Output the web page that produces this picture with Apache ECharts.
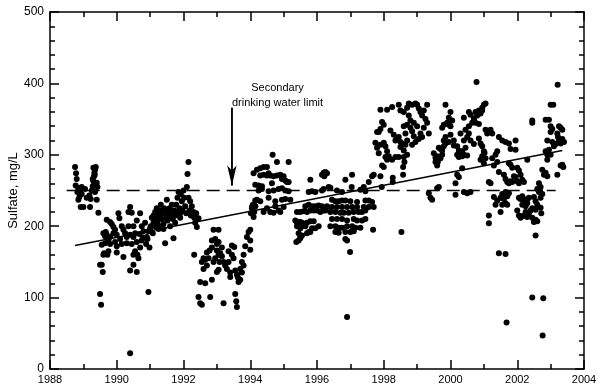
<!DOCTYPE html>
<html>
<head>
<meta charset="utf-8">
<script src="https://cdn.jsdelivr.net/npm/echarts@6/dist/echarts.min.js"></script>
<style>
  html, body { margin: 0; padding: 0; background: #fff; }
  #chart { width: 600px; height: 390px; }
</style>
</head>
<body>
<div id="chart"></div>
<script>
// sulfate samples [decimal year, mg/L]
const samples1988 = [
  [1988.75,283],[1988.78,274],[1988.8,266],[1988.77,257],[1988.85,253],[1988.9,250],[1988.82,248],
  [1988.88,241],[1988.85,237],[1988.92,227],[1989.0,227],[1988.95,245],[1989.05,252],[1989.1,240],
  [1989.2,227],[1989.18,243],[1989.22,238],[1989.25,250],[1989.28,256],[1989.3,263],[1989.32,270],
  [1989.33,275],[1989.35,279],[1989.37,283],[1989.3,282],[1989.4,261],[1989.42,255],[1989.35,248],
  [1989.4,237],[1989.45,219],[1988.95,255],[1989.28,266],[1989.34,272]
]
const samples1990 = [
  [1989.5,146],[1989.55,146],[1989.58,136],[1989.5,105],[1989.53,90],[1989.6,160],[1989.62,162],
  [1989.55,174],[1989.65,186],[1989.67,192],[1989.7,209],[1989.8,206],[1989.85,203],[1989.9,199],
  [1989.6,190],[1989.7,188],[1989.8,185],[1989.9,190],[1990.0,188],[1989.75,180],[1989.65,176],
  [1989.8,175],[1989.95,178],[1990.05,218],[1990.08,211],[1990.4,227],[1990.35,220],[1990.45,219],
  [1990.7,218],[1990.2,195],[1990.25,190],[1990.3,185],[1990.4,188],[1990.5,185],[1990.55,190],
  [1990.68,189],[1990.3,176],[1990.45,175],[1990.6,178],[1990.75,180],[1990.78,184],[1990.2,157],
  [1990.55,165],[1990.62,160],[1990.5,146],[1990.65,155],[1990.4,138],[1990.6,136],[1990.95,108],
  [1990.4,22],[1990.85,205],[1990.9,185],[1990.92,182],[1990.88,175],[1990.95,193],[1991.0,197],
  [1991.05,212],[1991.1,205],[1991.02,200],[1991.08,190],[1990.98,170],[1990.1,182],[1990.15,200],
  [1990.15,175],[1990.0,172],[1989.95,195],[1990.35,200],[1990.5,200],[1990.6,208],[1990.75,200],
  [1990.8,193],[1989.75,165],[1989.72,160],[1990.0,163],[1990.5,160],[1990.7,170]
]
const samples1991 = [
  [1991.1,215],[1991.15,220],[1991.18,210],[1991.2,225],[1991.22,205],[1991.25,215],[1991.28,200],
  [1991.3,222],[1991.32,230],[1991.35,210],[1991.38,218],[1991.4,203],[1991.42,225],[1991.45,176],
  [1991.48,212],[1991.5,237],[1991.5,220],[1991.52,208],[1991.55,215],[1991.58,225],[1991.6,200],
  [1991.62,218],[1991.65,230],[1991.68,210],[1991.7,183],[1991.72,222],[1991.75,215],[1991.78,230],
  [1991.8,220],[1991.82,240],[1991.85,248],[1991.88,225],[1991.9,218],[1991.92,245],[1991.95,235],
  [1991.97,222],[1992.0,250],[1992.02,240],[1992.05,228],[1992.08,218],[1992.1,255],[1992.12,273],
  [1992.15,290],[1992.15,240],[1992.2,235],[1992.18,222],[1992.22,215],[1992.25,228],[1992.3,220],
  [1992.32,212],[1992.35,205],[1992.38,218],[1992.4,199],[1992.45,211],[1991.3,212],[1991.6,212],
  [1991.9,212],[1991.4,196],[1991.75,205],[1991.15,200],[1991.25,196]
]
const samples1993 = [
  [1992.32,160],[1992.5,122],[1992.45,101],[1992.5,92],[1992.55,90],[1992.8,101],[1992.6,155],
  [1992.65,153],[1992.75,155],[1992.55,150],[1992.7,163],[1992.78,166],[1992.85,170],[1992.9,195],
  [1993.05,195],[1992.95,182],[1993.0,175],[1993.05,178],[1993.0,166],[1993.05,160],[1993.1,162],
  [1992.95,155],[1993.08,150],[1993.0,136],[1993.2,92],[1993.2,150],[1993.25,145],[1993.3,140],
  [1993.45,173],[1993.52,171],[1993.45,160],[1993.5,155],[1993.55,138],[1993.6,132],[1993.63,128],
  [1993.55,105],[1993.58,95],[1993.6,87],[1993.7,140],[1993.75,150],[1993.8,160],[1993.85,172],
  [1993.9,185],[1993.95,192],[1992.6,140],[1992.7,145],[1992.9,150],[1993.15,158],[1993.35,150],
  [1993.4,135],[1993.35,165],[1993.15,170],[1992.85,180],[1993.65,122],[1993.7,125],[1993.75,135],
  [1993.8,145],[1992.65,120],[1992.85,125],[1993.05,139],[1993.4,129]
]
const samples1994 = [
  [1994.0,195],[1994.0,180],[1994.0,167],[1994.02,218],[1994.05,225],[1994.08,230],[1994.12,220],
  [1994.1,213],[1994.15,228],[1994.1,274],[1994.2,279],[1994.3,281],[1994.4,283],[1994.5,283],
  [1994.55,274],[1994.67,300],[1994.8,290],[1995.15,290],[1994.3,271],[1994.4,272],[1994.5,271],
  [1994.6,271],[1994.7,270],[1994.8,271],[1994.9,272],[1995.0,270],[1994.95,266],[1995.05,264],
  [1995.1,262],[1995.15,262],[1994.15,258],[1994.25,257],[1994.35,256],[1994.25,250],[1994.35,252],
  [1994.55,249],[1994.7,250],[1994.85,252],[1994.95,253],[1995.05,250],[1995.15,249],[1994.2,237],
  [1994.3,235],[1994.15,236],[1994.75,235],[1994.95,237],[1995.05,238],[1995.2,237],[1994.05,227],
  [1994.15,228],[1994.5,225],[1994.6,220],[1994.75,228],[1994.85,222],[1994.7,219],[1994.9,220],
  [1995.0,227],[1994.4,220],[1994.55,240],[1994.65,260]
]
const samples1995 = [
  [1995.8,265],[1996.15,272],[1996.2,275],[1996.25,276],[1996.3,274],[1996.22,270],[1995.75,248],
  [1995.85,249],[1995.95,248],[1996.15,250],[1996.2,252],[1996.35,255],[1996.4,254],[1995.4,220],
  [1995.5,220],[1995.6,221],[1995.7,220],[1995.8,222],[1995.9,222],[1996.0,222],[1996.1,220],
  [1996.2,222],[1996.25,222],[1995.65,228],[1995.75,230],[1995.85,228],[1995.95,228],[1996.05,229],
  [1996.15,228],[1996.3,228],[1995.35,208],[1995.4,205],[1995.45,206],[1995.5,206],[1995.55,205],
  [1995.6,203],[1995.7,205],[1995.8,207],[1995.9,207],[1995.4,200],[1995.5,197],[1995.55,200],
  [1995.65,200],[1995.75,192],[1995.85,197],[1995.95,197],[1996.05,200],[1995.45,190],[1995.55,187],
  [1995.5,185],[1995.7,190],[1995.8,192],[1995.45,180],[1995.5,183],[1995.38,178]
]
const samples1997 = [
  [1997.05,272],[1996.85,265],[1997.7,272],[1996.45,237],[1996.55,235],[1996.65,235],[1996.75,236],
  [1996.85,236],[1997.0,235],[1997.2,234],[1997.45,236],[1997.55,236],[1997.65,234],[1996.3,227],
  [1996.45,227],[1996.6,227],[1996.75,227],[1996.9,227],[1997.05,227],[1997.2,227],[1997.4,227],
  [1997.55,227],[1997.7,227],[1996.4,220],[1996.55,220],[1996.7,219],[1996.8,219],[1996.95,219],
  [1997.1,220],[1997.25,220],[1997.35,220],[1997.45,222],[1996.45,210],[1996.6,210],[1996.75,210],
  [1996.9,208],[1997.1,210],[1997.2,208],[1997.35,208],[1997.45,210],[1996.4,200],[1996.55,200],
  [1996.65,198],[1996.75,198],[1996.9,200],[1997.05,200],[1997.15,198],[1997.3,198],[1996.55,192],
  [1996.65,191],[1996.85,192],[1997.0,192],[1997.1,193],[1996.85,182],[1996.9,180],[1996.99,164],
  [1996.9,73],[1997.68,195],[1996.6,250],[1996.75,248],[1997.3,251],[1997.45,249],[1997.04,255],
  [1997.4,255],[1997.55,262],[1997.65,270],[1997.94,255]
]
const samples1998 = [
  [1997.9,363],[1998.1,363],[1998.25,367],[1997.95,346],[1998.0,342],[1997.9,336],[1997.8,332],
  [1997.85,332],[1997.75,317],[1997.8,310],[1997.9,314],[1998.0,317],[1998.05,312],[1998.1,305],
  [1997.85,302],[1997.95,285],[1998.0,283],[1998.05,297],[1998.15,298],[1998.1,293],[1998.25,293],
  [1998.35,297],[1998.45,297],[1998.2,334],[1998.3,328],[1998.35,320],[1998.4,322],[1998.45,325],
  [1998.55,316],[1998.5,318],[1998.65,314],[1998.45,370],[1998.5,362],[1998.6,360],[1998.7,366],
  [1998.75,372],[1998.85,370],[1998.95,372],[1999.0,370],[1999.05,365],[1998.6,340],[1998.7,342],
  [1998.8,338],[1998.85,333],[1998.9,326],[1998.95,318],[1998.85,314],[1999.05,322],[1999.1,360],
  [1999.2,362],[1999.15,355],[1999.25,350],[1999.3,345],[1999.2,338],[1999.35,330],[1999.3,370],
  [1998.58,283],[1998.62,290],[1998.58,272],[1998.53,192],[1998.27,268],[1998.27,262],[1997.9,270],
  [1999.35,246],[1999.4,240],[1999.45,237],[1999.6,253],[1999.65,255],[1998.75,355],[1998.8,348],
  [1998.9,345],[1999.0,340],[1999.1,330],[1999.15,325],[1998.65,330],[1998.7,320],[1998.5,311],
  [1998.6,306],[1998.7,300],[1998.6,297]
]
const samples2000 = [
  [1999.5,302],[1999.55,296],[1999.55,290],[1999.6,285],[1999.62,290],[1999.6,298],[1999.65,310],
  [1999.7,308],[1999.75,306],[1999.8,312],[1999.85,316],[1999.8,320],[1999.85,325],[1999.75,338],
  [1999.8,342],[1999.9,345],[1999.95,342],[2000.0,340],[2000.0,328],[1999.95,318],[1999.85,370],
  [2000.0,360],[1999.95,352],[2000.05,348],[1999.75,300],[1999.7,295],[2000.15,260],[2000.15,244],
  [2000.1,313],[2000.2,312],[2000.25,306],[2000.3,300],[2000.2,300],[2000.25,297],[2000.35,298],
  [2000.4,300],[2000.5,299],[2000.35,305],[2000.45,310],[2000.2,272],[2000.25,269],[2000.35,281],
  [2000.4,248],[2000.5,246],[2000.6,248],[2000.4,320],[2000.5,325],[2000.55,330],[2000.45,335],
  [2000.55,340],[2000.65,345],[2000.7,348],[2000.75,345],[2000.85,343],[2000.8,355],[2000.75,360],
  [2000.4,352],[2000.55,360],[2000.6,356],[2000.7,351],[2000.8,360],[2000.85,362],[2000.9,358],
  [2000.95,362],[2001.0,370],[2001.05,372],[2000.95,366],[2000.78,402],[2000.85,323],[2000.9,316],
  [2000.95,312],[2001.0,305],[2000.95,298],[2000.9,293],[2001.0,288],[2001.05,295],[2001.02,303],
  [2001.05,335],[2001.1,330],[2001.15,333],[2001.2,335],[2001.25,330],[2000.6,320],[2000.7,315],
  [2000.3,330],[2000.1,320]
]
const samples2001 = [
  [2001.15,215],[2001.15,204],[2001.15,262],[2001.2,260],[2001.25,295],[2001.3,285],[2001.4,290],
  [2001.45,276],[2001.35,300],[2001.4,305],[2001.3,241],[2001.4,236],[2001.5,240],[2001.55,245],
  [2001.6,238],[2001.65,248],[2001.7,242],[2001.75,246],[2001.65,232],[2001.7,230],[2001.55,230],
  [2001.6,272],[2001.65,266],[2001.7,262],[2001.75,260],[2001.45,325],[2001.55,320],[2001.65,318],
  [2001.75,316],[2001.8,308],[2001.75,288],[2001.8,286],[2001.85,282],[2001.9,270],[2001.85,262],
  [2001.8,263],[2002.0,263],[2001.45,162],[2001.65,161],[2001.68,65],[2001.5,220],[2001.35,230]
]
const samples2002 = [
  [2002.0,222],[2002.05,215],[2002.1,212],[2002.15,214],[2002.2,215],[2002.25,220],[2002.3,213],
  [2002.35,218],[2002.4,222],[2002.45,225],[2002.05,240],[2002.1,238],[2002.15,242],[2002.2,236],
  [2002.3,238],[2002.35,240],[2002.25,228],[2002.15,230],[2002.3,232],[2002.5,206],[2002.55,209],
  [2002.6,207],[2002.45,212],[2002.55,187],[2002.45,348],[2002.45,345],[2002.3,293],[2002.5,241],
  [2002.55,235],[2002.6,230],[2002.55,223],[2002.65,248],[2002.6,252],[2002.7,255],[2002.65,260],
  [2002.68,250],[2002.45,100],[2002.78,99],[2002.76,47],[2002.0,282],[2001.95,320],[2001.95,307],
  [2002.05,278],[2002.1,272],[2001.95,269],[2002.05,260],[2002.15,265],[2002.2,262]
]
const samples2003 = [
  [2002.75,279],[2002.8,272],[2002.85,275],[2002.9,270],[2002.85,305],[2002.9,293],[2002.9,300],
  [2002.85,349],[2002.95,349],[2003.0,340],[2003.0,332],[2003.05,336],[2003.0,370],[2003.21,398],
  [2003.08,370],[2003.2,330],[2003.22,325],[2003.25,320],[2003.3,316],[2003.35,322],[2003.4,318],
  [2003.25,340],[2003.3,338],[2003.35,335],[2003.15,315],[2003.1,312],[2003.2,272],[2003.3,285],
  [2003.35,286],[2003.38,283],[2002.95,307],[2003.0,300],[2003.05,318],[2002.9,320],[2002.7,226],
  [2002.72,218],[2002.7,240],[2002.75,245]
]

// linear trend end points and the secondary drinking water limit
const trendYears = [1988.75, 2003.35]
const trendValues = [173, 306]
const limitValue = 250
const limitYears = [1988.5, 2003.15]
const arrowYear = 1993.45
const arrowValues = [366, 257]

const xTicks = [1988, 2004, 2]
const yTicks = [0, 500, 100]

const allSamples = [].concat(samples1988, samples1990, samples1991, samples1993, samples1994,
  samples1995, samples1997, samples1998, samples2000, samples2001, samples2002, samples2003)

const chart = echarts.init(document.getElementById('chart'))
const font = 'Liberation Sans, Arial, sans-serif'

const tickStyle = { inside: true, length: 9, lineStyle: { color: '#000', width: 1.5 } }
const minorStyle = { show: true, length: 5, lineStyle: { color: '#000', width: 1.5 } }
const lineStyle = { show: true, onZero: false, lineStyle: { color: '#000', width: 1.5 } }

const option = {
  animation: false,
  backgroundColor: '#fff',
  grid: { left: 50, top: 12, right: 16, bottom: 21, containLabel: false, outerBoundsMode: 'none' },
  xAxis: [
    {
      type: 'value', min: xTicks[0], max: xTicks[1], interval: xTicks[2],
      axisLine: lineStyle, axisTick: tickStyle,
      minorTick: Object.assign({ splitNumber: 2 }, minorStyle),
      splitLine: { show: false },
      axisLabel: { color: '#000', fontSize: 11, fontFamily: font, margin: 5, formatter: v => String(v) }
    },
    {
      type: 'value', position: 'top', min: xTicks[0], max: xTicks[1], interval: xTicks[2],
      axisLine: lineStyle, axisTick: tickStyle,
      minorTick: Object.assign({ splitNumber: 2 }, minorStyle),
      splitLine: { show: false }, axisLabel: { show: false }
    }
  ],
  yAxis: [
    {
      type: 'value', min: yTicks[0], max: yTicks[1], interval: yTicks[2],
      name: 'Sulfate, mg/L', nameLocation: 'middle', nameGap: 30, nameMoveOverlap: false,
      nameTextStyle: { color: '#000', fontSize: 13, fontFamily: font },
      axisLine: lineStyle, axisTick: tickStyle,
      minorTick: Object.assign({ splitNumber: 5 }, minorStyle),
      splitLine: { show: false },
      axisLabel: { color: '#000', fontSize: 12, fontFamily: font, margin: 6 }
    },
    {
      type: 'value', position: 'right', min: yTicks[0], max: yTicks[1], interval: yTicks[2],
      axisLine: lineStyle, axisTick: tickStyle,
      minorTick: Object.assign({ splitNumber: 5 }, minorStyle),
      splitLine: { show: false }, axisLabel: { show: false }
    }
  ],
  series: [
    {
      type: 'scatter',
      data: allSamples,
      symbolSize: 6,
      itemStyle: { color: '#000', opacity: 1 },
      z: 3
    },
    {
      type: 'line',
      data: trendYears.map((yr, i) => [yr, trendValues[i]]),
      symbol: 'none',
      lineStyle: { color: '#000', width: 1.5 },
      z: 4
    },
    {
      type: 'line',
      data: limitYears.map(yr => [yr, limitValue]),
      symbol: 'none',
      lineStyle: { color: '#000', width: 1.5, type: [13, 7] },
      z: 2
    },
    {
      type: 'line',
      data: arrowValues.map(v => [arrowYear, v]),
      symbol: 'none',
      lineStyle: { color: '#000', width: 1.5 },
      markLine: {
        silent: true,
        symbol: ['none', 'arrow'],
        symbolSize: [7, 20],
        lineStyle: { color: '#000', width: 1.5, type: 'solid' },
        label: { show: false },
        data: [[{ coord: [arrowYear, arrowValues[0]] }, { coord: [arrowYear, arrowValues[1]] }]]
      },
      z: 4
    }
  ],
  graphic: [
    {
      type: 'text', left: 232, top: 80,
      style: { text: 'Secondary\ndrinking water limit', fill: '#000', font: '11px ' + font,
        textAlign: 'center', lineHeight: 15 }
    }
  ]
}
chart.setOption(option)
</script>
</body>
</html>
